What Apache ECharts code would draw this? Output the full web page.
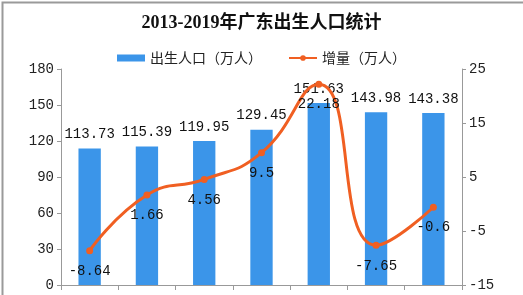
<!DOCTYPE html>
<html><head><meta charset="utf-8">
<script src="https://cdn.jsdelivr.net/npm/echarts@6/dist/echarts.min.js"></script>
<style>html,body{margin:0;padding:0;background:#fff}#c{width:523px;height:295px}</style>
</head><body><div id="c"></div>
<script>
const years = ['2013','2014','2015','2016','2017','2018','2019'];
const births = [113.73, 115.39, 119.95, 129.45, 151.63, 143.98, 143.38];
const increase = [-8.64, 1.66, 4.56, 9.5, 22.18, -7.65, -0.6];
const leftTicks = {min: 0, max: 180, interval: 30};
const rightTicks = {min: -15, max: 25, interval: 10};

const numFont = '"Liberation Mono", monospace';
const chart = echarts.init(document.getElementById('c'), null, {renderer: 'canvas'});
chart.setOption({
  animation: false,
  backgroundColor: '#fff',
  graphic: [{type: 'rect', left: 0, top: 0, shape: {width: 522, height: 294}, style: {fill: 'none', stroke: '#9a9a9a', lineWidth: 2}, z: 100}],
  title: {
    text: '2013-2019年广东出生人口统计', left: 'center', top: 9,
    textStyle: {fontFamily: '"Liberation Serif", "Noto Sans CJK SC"', fontWeight: 'bold', fontSize: 18, color: '#111'}
  },
  legend: {
    top: 46, left: 'center', itemGap: 26, itemWidth: 28, itemHeight: 7,
    textStyle: {fontFamily: '"Noto Sans CJK SC"', fontSize: 14, color: '#222'},
    data: [{name: '出生人口（万人）', icon: 'rect'}, {name: '增量（万人）'}]
  },
  grid: {left: 61, right: 61, top: 69, bottom: 10, containLabel: false},
  xAxis: {
    type: 'category', data: years,
    axisLine: {lineStyle: {color: '#999'}},
    axisTick: {show: true, length: 5, lineStyle: {color: '#999'}},
    axisLabel: {show: false}
  },
  yAxis: [
    {type: 'value', min: leftTicks.min, max: leftTicks.max, interval: leftTicks.interval,
     axisLine: {show: true, lineStyle: {color: '#999'}}, axisTick: {show: true, length: 4, lineStyle: {color: '#999'}},
     splitLine: {show: false},
     axisLabel: {fontFamily: numFont, fontSize: 14, color: '#222', margin: 7}},
    {type: 'value', min: rightTicks.min, max: rightTicks.max, interval: rightTicks.interval,
     axisLine: {show: true, lineStyle: {color: '#999'}}, axisTick: {show: true, length: 4, lineStyle: {color: '#999'}},
     splitLine: {show: false},
     axisLabel: {fontFamily: numFont, fontSize: 14, color: '#222', margin: 7}}
  ],
  series: [
    {name: '出生人口（万人）', type: 'bar', data: births, barWidth: '39%', yAxisIndex: 0,
     itemStyle: {color: '#3b95e9'},
     label: {show: true, position: 'top', distance: 7, fontFamily: numFont, fontSize: 14, color: '#111'}},
    {name: '增量（万人）', type: 'line', data: increase, yAxisIndex: 1, smooth: 0.5,
     symbol: 'circle', symbolSize: 7,
     lineStyle: {color: '#f05f22', width: 3}, itemStyle: {color: '#f05f22'},
     label: {show: true, position: 'bottom', distance: 10, fontFamily: numFont, fontSize: 14, color: '#111'}}
  ]
});
</script></body></html>
